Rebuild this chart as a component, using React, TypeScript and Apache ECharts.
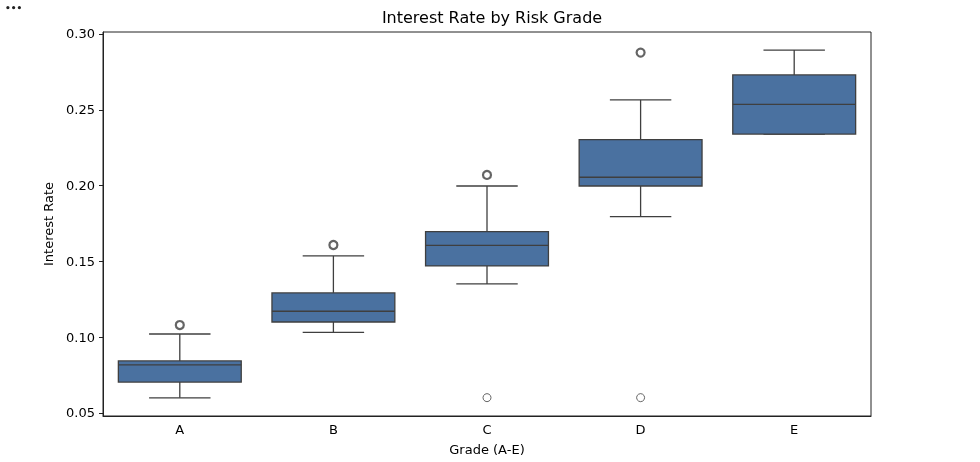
import React, { useEffect, useRef } from "react";
import * as echarts from "echarts";

// Risk grades on the x axis
const grades = ["A", "B", "C", "D", "E"];

// Five-number summary per grade: [low whisker, Q1, median, Q3, high whisker]
const lowWhisker = [0.06, 0.1032, 0.1351, 0.1795, 0.234];
const q1 = [0.0704, 0.11, 0.147, 0.1997, 0.234];
const median = [0.0817, 0.1171, 0.1606, 0.2055, 0.2536];
const q3 = [0.0843, 0.1292, 0.1696, 0.2303, 0.273];
const highWhisker = [0.1021, 0.1536, 0.1997, 0.2565, 0.2894];

// Outliers: [grade index, rate, repeated points stacked on one spot]
const outlierGrade = [0, 1, 2, 2, 3, 3];
const outlierRate = [0.108, 0.1608, 0.207, 0.0601, 0.2877, 0.0601];
const outlierStacked = [true, true, true, false, true, false];

// Y axis ticks
const yTicks = [0.05, 0.1, 0.15, 0.2, 0.25, 0.3];

const BOX_FILL = "#4a71a0";
const EDGE = "#3f3f3f";
const FONT = "DejaVu Sans";

export default function App() {
  const ref = useRef<HTMLDivElement>(null);

  useEffect(() => {
    if (!ref.current) return;
    const chart = echarts.init(ref.current, null, { renderer: "svg" });

    const boxData = grades.map((_, i) => [
      i,
      lowWhisker[i],
      q1[i],
      median[i],
      q3[i],
      highWhisker[i],
    ]);

    const outlierData = outlierGrade.map((g, i) => ({
      value: [g, outlierRate[i]],
      itemStyle: { borderWidth: outlierStacked[i] ? 2.2 : 1 },
    }));

    const renderBox = (params: any, api: any) => {
      const x = api.value(0);
      const pLow = api.coord([x, api.value(1)]);
      const pQ1 = api.coord([x, api.value(2)]);
      const pMed = api.coord([x, api.value(3)]);
      const pQ3 = api.coord([x, api.value(4)]);
      const pHigh = api.coord([x, api.value(5)]);
      const bw = api.size([1, 0])[0] * 0.8;
      const half = bw / 2;
      const cap = bw / 4;
      const cx = pMed[0];
      const ls = { stroke: EDGE, lineWidth: 1.3, fill: null };
      return {
        type: "group",
        children: [
          {
            type: "line",
            shape: { x1: cx, y1: pQ1[1], x2: cx, y2: pLow[1] },
            style: ls,
          },
          {
            type: "line",
            shape: { x1: cx, y1: pQ3[1], x2: cx, y2: pHigh[1] },
            style: ls,
          },
          {
            type: "line",
            shape: { x1: cx - cap, y1: pLow[1], x2: cx + cap, y2: pLow[1] },
            style: ls,
          },
          {
            type: "line",
            shape: { x1: cx - cap, y1: pHigh[1], x2: cx + cap, y2: pHigh[1] },
            style: ls,
          },
          {
            type: "rect",
            shape: {
              x: cx - half,
              y: pQ3[1],
              width: bw,
              height: pQ1[1] - pQ3[1],
            },
            style: { fill: BOX_FILL, stroke: EDGE, lineWidth: 1.3 },
          },
          {
            type: "line",
            shape: { x1: cx - half, y1: pMed[1], x2: cx + half, y2: pMed[1] },
            style: ls,
          },
        ],
      };
    };

    chart.setOption({
      animation: false,
      textStyle: { fontFamily: FONT },
      title: {
        text: "Interest Rate by Risk Grade",
        left: 487,
        textAlign: "center",
        top: 4,
        textStyle: {
          fontFamily: FONT,
          fontSize: 16,
          fontWeight: "normal",
          color: "#000",
        },
      },
      graphic: [
        {
          type: "text",
          left: 5,
          top: 3,
          style: {
            text: "•••",
            fontSize: 9,
            fontWeight: "bold",
            fill: "#222",
            fontFamily: FONT,
          },
        },
      ],
      grid: {
        left: 103,
        right: 109,
        top: 32,
        bottom: 46,
        show: true,
        borderColor: "#222",
        borderWidth: 1,
        backgroundColor: "#fff",
      },
      xAxis: {
        type: "category",
        data: grades,
        boundaryGap: true,
        name: "Grade (A-E)",
        nameLocation: "middle",
        nameGap: 27,
        nameTextStyle: { fontFamily: FONT, fontSize: 13, color: "#000" },
        axisLine: { lineStyle: { color: "#222", width: 1 } },
        axisTick: {
          alignWithLabel: true,
          length: 4,
          lineStyle: { color: "#222" },
        },
        axisLabel: {
          fontFamily: FONT,
          fontSize: 13,
          color: "#000",
          margin: 7,
        },
        splitLine: { show: false },
      },
      yAxis: {
        type: "value",
        min: 0.048,
        max: 0.3013,
        name: "Interest Rate",
        nameLocation: "middle",
        nameGap: 46,
        nameRotate: 90,
        nameTextStyle: { fontFamily: FONT, fontSize: 13, color: "#000" },
        axisLine: { show: true, lineStyle: { color: "#222", width: 1 } },
        axisTick: {
          show: true,
          length: 4,
          customValues: yTicks,
          lineStyle: { color: "#222" },
        },
        axisLabel: {
          fontFamily: FONT,
          fontSize: 13,
          color: "#000",
          margin: 8,
          customValues: yTicks,
          formatter: (v: number) => v.toFixed(2),
        },
        splitLine: { show: false },
      },
      series: [
        {
          type: "custom",
          renderItem: renderBox,
          data: boxData,
          encode: { x: 0, y: [1, 2, 3, 4, 5] },
          z: 2,
        },
        {
          type: "scatter",
          data: outlierData,
          symbol: "circle",
          symbolSize: 8,
          itemStyle: { color: "#fff", borderColor: EDGE },
          z: 3,
        },
      ],
    });

    return () => chart.dispose();
  }, []);

  return (
    <div
      ref={ref}
      style={{ position: "fixed", left: 0, top: 0, width: 980, height: 462 }}
    />
  );
}
